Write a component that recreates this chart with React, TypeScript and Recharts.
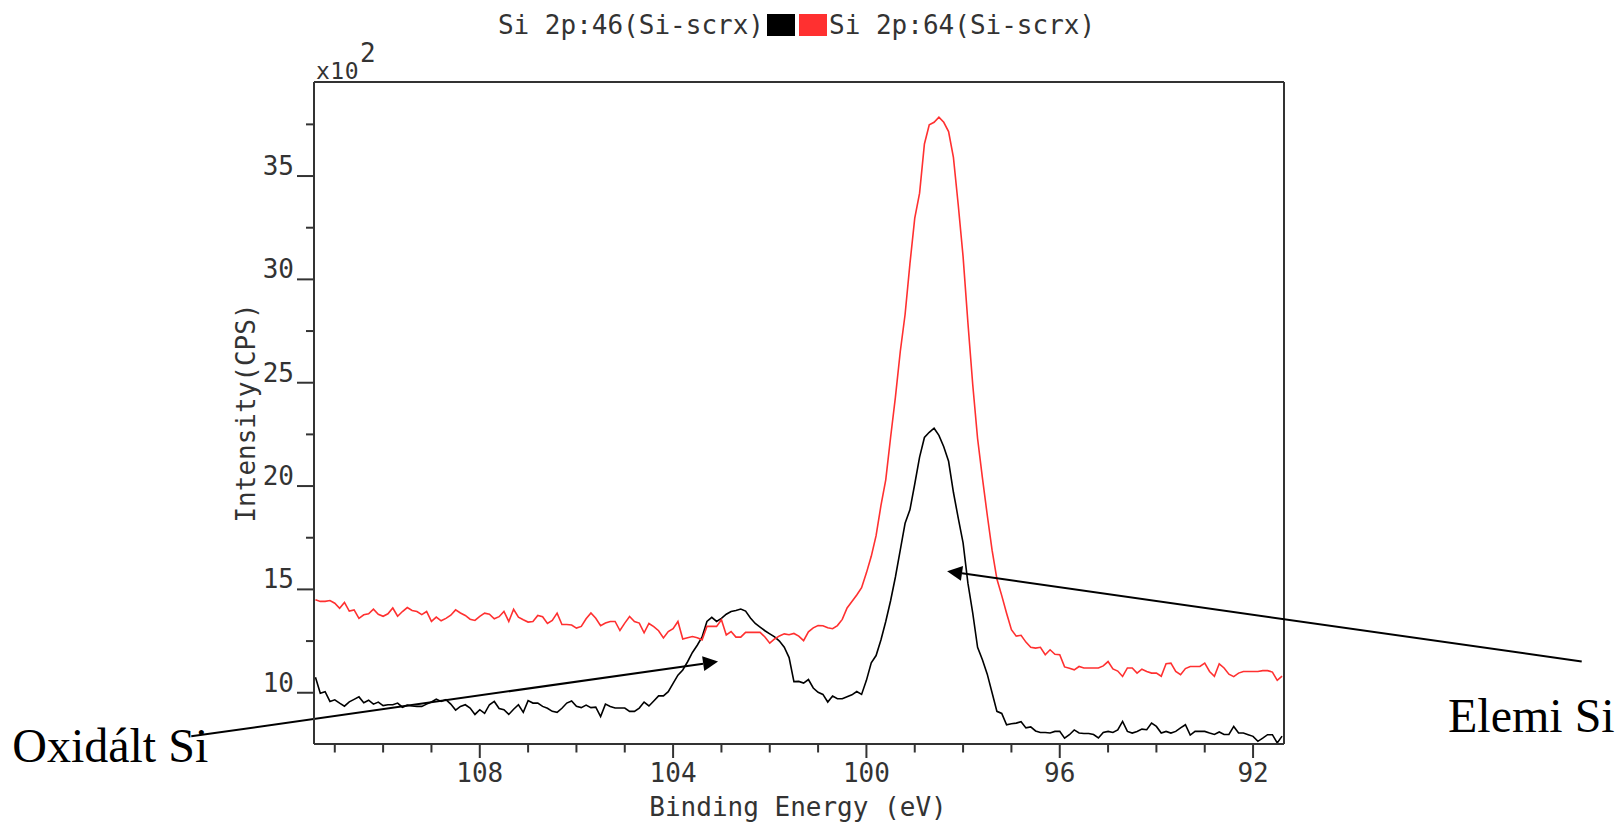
import React from 'react';
import { LineChart, Line, XAxis, YAxis, Legend, ReferenceLine } from 'recharts';

// Binding energy grid: 111.4 eV down to 91.4 eV, 0.1 eV step (201 points)
const START_EV = 111.4;
const STEP_EV = 0.1;

// Si 2p:46 (black), intensity in x10^2 CPS
const black46 = [
  10.75, 9.98, 10.05, 9.58, 9.66, 9.5, 9.35, 9.56, 9.68, 9.8,
  9.52, 9.64, 9.45, 9.55, 9.38, 9.42, 9.42, 9.5, 9.3, 9.4,
  9.36, 9.34, 9.34, 9.45, 9.55, 9.69, 9.58, 9.67, 9.45, 9.16,
  9.34, 9.42, 9.26, 8.95, 9.18, 9.0, 9.42, 9.58, 9.24, 9.18,
  8.95, 9.2, 9.42, 9.05, 9.62, 9.5, 9.5, 9.34, 9.25, 9.1,
  9.05, 9.25, 9.5, 9.6, 9.34, 9.28, 9.4, 9.28, 9.3, 8.85,
  9.45, 9.34, 9.26, 9.26, 9.26, 9.1, 9.1, 9.26, 9.55, 9.36,
  9.6, 9.85, 9.85, 10.05, 10.45, 10.85, 11.1, 11.5, 11.95, 12.3,
  12.7, 13.45, 13.65, 13.45, 13.6, 13.8, 13.93, 13.98, 14.05, 13.95,
  13.62, 13.35, 13.18, 13.0, 12.85, 12.7, 12.5, 12.2, 11.7, 10.54,
  10.55, 10.47, 10.64, 10.23, 10.02, 9.92, 9.55, 9.84, 9.71, 9.71,
  9.81, 9.9, 10.06, 9.92, 10.6, 11.45, 11.8, 12.55, 13.45, 14.45,
  15.6, 16.9, 18.2, 18.85, 20.1, 21.4, 22.35, 22.6, 22.8, 22.45,
  21.9, 21.2, 19.7, 18.45, 17.25, 15.3, 13.85, 12.2, 11.6, 10.9,
  10.0, 9.1, 9.0, 8.45, 8.5, 8.53, 8.6, 8.3, 8.35, 8.15,
  8.08, 8.08, 8.05, 8.13, 8.13, 7.8, 7.97, 8.2, 8.05, 8.03,
  8.03, 7.98, 7.81, 8.08, 8.13, 8.08, 8.2, 8.61, 8.13, 8.05,
  8.13, 8.24, 8.21, 8.53, 8.37, 8.05, 8.13, 8.05, 8.13, 8.3,
  8.45, 7.95, 8.13, 8.13, 8.13, 8.05, 7.98, 8.1, 7.98, 7.98,
  8.37, 8.05, 8.05, 7.97, 7.89, 7.65, 7.8, 7.97, 7.97, 7.57, 7.9,
];

// Si 2p:64 (red), intensity in x10^2 CPS
const red64 = [
  14.5, 14.42, 14.42, 14.46, 14.33, 14.09, 14.37, 13.95, 14.01, 13.6,
  13.77, 13.82, 14.04, 13.8, 13.7, 13.82, 14.1, 13.7, 13.93, 14.12,
  13.98, 13.93, 13.78, 13.93, 13.45, 13.66, 13.48, 13.6, 13.75, 14.01,
  13.86, 13.74, 13.56, 13.5, 13.7, 13.85, 13.8, 13.58, 13.68, 13.93,
  13.45, 14.04, 13.66, 13.53, 13.42, 13.45, 13.74, 13.68, 13.35, 13.5,
  13.85, 13.3, 13.3, 13.28, 13.13, 13.21, 13.58, 13.86, 13.6, 13.24,
  13.37, 13.45, 13.45, 13.01, 13.37, 13.69, 13.45, 13.37, 12.9, 13.35,
  13.2, 13.0, 12.65, 12.96, 13.1, 13.45, 12.6, 12.66, 12.72, 12.66,
  12.56, 13.21, 13.21, 13.21, 13.53, 12.8, 12.96, 12.69, 12.69, 12.92,
  12.92, 12.92, 12.92, 12.7, 12.4, 12.6, 12.75, 12.85, 12.81, 12.87,
  12.74, 12.52, 12.95, 13.14, 13.25, 13.24, 13.14, 13.1, 13.25, 13.55,
  14.1, 14.41, 14.73, 15.08, 15.8, 16.6, 17.6, 19.05, 20.3, 22.35,
  24.3, 26.5, 28.3, 30.75, 32.96, 34.17, 36.55, 37.48, 37.6, 37.85,
  37.6, 37.15, 35.9, 33.6, 31.1, 27.9, 24.9, 22.3, 20.4, 18.6,
  16.9, 15.5, 14.7, 13.85, 13.05, 12.74, 12.78, 12.45, 12.2, 12.16,
  12.2, 11.84, 12.08, 11.86, 11.84, 11.25, 11.18, 11.11, 11.27, 11.2,
  11.2, 11.2, 11.2, 11.3, 11.51, 11.15, 11.05, 10.79, 11.2, 11.2,
  10.95, 11.14, 11.03, 10.95, 10.95, 10.8, 11.4, 11.43, 11.03, 10.87,
  11.17, 11.27, 11.27, 11.27, 11.43, 11.03, 10.8, 11.4, 11.2, 10.9,
  10.78, 10.95, 11.03, 11.03, 11.03, 11.03, 11.07, 11.07, 11.0, 10.6, 10.8,
];

const seriesNames = ['Si 2p:46(Si-scrx)', 'Si 2p:64(Si-scrx)'];
const seriesColors = ['#000000', '#ff3030'];

const xTicks = [92, 93, 94, 95, 96, 97, 98, 99, 100, 101, 102, 103, 104, 105, 106, 107, 108, 109, 110, 111];
const yTicks = [10, 12.5, 15, 17.5, 20, 22.5, 25, 27.5, 30, 32.5, 35, 37.5];
const xDomain = [91.36, 111.43];
const yDomain = [7.52, 39.55];

const xTitle = 'Binding Energy (eV)';
const yTitle = 'Intensity(CPS)';

// annotation arrows (data coordinates: [eV, x10^2 CPS]); first point = label end, second = arrow tip
const oxidArrow = [{ x: 113.97, y: 7.89 }, { x: 103.07, y: 11.51 }];
const elemArrow = [{ x: 85.2, y: 11.51 }, { x: 98.33, y: 15.88 }];
const oxidLabel = 'Oxidált Si';
const elemLabel = 'Elemi Si';

const data = black46.map((b, i) => ({
  energy: Math.round((START_EV - i * STEP_EV) * 10) / 10,
  s46: b,
  s64: red64[i],
}));

const MONO = '"DejaVu Sans Mono", "Liberation Mono", monospace';
const SERIF = '"Liberation Serif", "Times New Roman", serif';
const AXIS = '#333333';
const TXT = '#333333';

const XTick = (props: any) => {
  const { x, y, payload } = props;
  const v = payload.value;
  const major = v % 4 === 0;
  return (
    <g>
      <line x1={x} y1={y} x2={x} y2={y + (major ? 14 : 8.5)} stroke={AXIS} strokeWidth={2} />
      {major && (
        <text x={x} y={y + 38} textAnchor="middle" fontFamily={MONO} fontSize={26} fill={TXT}>
          {v}
        </text>
      )}
    </g>
  );
};

const YTick = (props: any) => {
  const { x, y, payload } = props;
  const v = payload.value;
  const major = v % 5 === 0;
  return (
    <g>
      <line x1={x - (major ? 17 : 8)} y1={y} x2={x} y2={y} stroke={AXIS} strokeWidth={2} />
      {major && (
        <text x={x - 20} y={y - 1} textAnchor="end" fontFamily={MONO} fontSize={26} fill={TXT}>
          {v}
        </text>
      )}
    </g>
  );
};

const YLabel = (props: any) => {
  const vb = props.viewBox || { x: 0, y: 0, width: 0, height: 0 };
  const right = vb.x + vb.width;
  const cy = vb.y + vb.height / 2;
  return (
    <g>
      <text
        x={right - 68}
        y={cy}
        transform={`rotate(-90 ${right - 68} ${cy})`}
        textAnchor="middle"
        dominantBaseline="central"
        fontFamily={MONO}
        fontSize={26}
        fill={TXT}
      >
        {yTitle}
      </text>
      <text x={right + 2} y={vb.y - 3} fontFamily={MONO} fontSize={23} letterSpacing={0.5} fill={TXT}>
        x10
      </text>
      <text x={right + 46} y={vb.y - 20} fontFamily={MONO} fontSize={26} fill={TXT}>
        2
      </text>
    </g>
  );
};

const XLabel = (props: any) => {
  const vb = props.viewBox || { x: 0, y: 0, width: 0, height: 0 };
  return (
    <text
      x={vb.x + vb.width / 2 - 1}
      y={vb.y + 72}
      textAnchor="middle"
      fontFamily={MONO}
      fontSize={26}
      fill={TXT}
    >
      {xTitle}
    </text>
  );
};

const makeArrow = (label: string, dx: number, dy: number) => (p: any) => {
  const { x1, y1, x2, y2 } = p;
  const ang = Math.atan2(y2 - y1, x2 - x1);
  const L = 15;
  const W = 7.5;
  const c = Math.cos(ang);
  const s = Math.sin(ang);
  const bx = x2 - L * c;
  const by = y2 - L * s;
  const pts = `${x2},${y2} ${bx - W * s},${by + W * c} ${bx + W * s},${by - W * c}`;
  return (
    <g>
      <line x1={x1} y1={y1} x2={bx} y2={by} stroke="#000" strokeWidth={2} />
      <polygon points={pts} fill="#000" />
      <text x={x1 + dx} y={y1 + dy} textAnchor="end" fontFamily={SERIF} fontSize={48} fill="#000">
        {label}
      </text>
    </g>
  );
};

const renderLegend = (props: any) => {
  const p = props.payload || [];
  const a = p[0] || { value: seriesNames[0], color: seriesColors[0] };
  const b = p[1] || { value: seriesNames[1], color: seriesColors[1] };
  return (
    <svg width={1621} height={50} style={{ position: 'absolute', left: 0, top: 0, overflow: 'visible' }}>
      <text x={764} y={34} textAnchor="end" fontFamily={MONO} fontSize={26} fill={TXT}>
        {a.value}
      </text>
      <rect x={767} y={14} width={28} height={22} fill={a.color} />
      <rect x={799} y={14} width={28} height={22} fill={b.color} />
      <text x={829} y={34} fontFamily={MONO} fontSize={26} fill={TXT}>
        {b.value}
      </text>
    </svg>
  );
};

export default function App() {
  return (
    <div style={{ position: 'absolute', left: 0, top: 0, width: 1621, height: 824, background: '#fff' }}>
      <LineChart
        width={1621}
        height={824}
        data={data}
        margin={{ top: 82, right: 337, bottom: 0, left: 0 }}
      >
        <XAxis
          dataKey="energy"
          type="number"
          domain={xDomain}
          reversed
          allowDataOverflow
          ticks={xTicks}
          interval={0}
          tickSize={0}
          tickMargin={0}
          tickLine={false}
          tick={<XTick />}
          axisLine={{ stroke: AXIS, strokeWidth: 2 }}
          height={80}
          label={<XLabel />}
        />
        <YAxis
          type="number"
          domain={yDomain}
          allowDataOverflow
          ticks={yTicks}
          interval={0}
          tickSize={0}
          tickMargin={0}
          tickLine={false}
          tick={<YTick />}
          axisLine={{ stroke: AXIS, strokeWidth: 2 }}
          width={314}
          label={<YLabel />}
        />
        <Legend
          content={renderLegend}
          wrapperStyle={{ position: 'absolute', left: 0, top: 0, width: 1621, height: 0, margin: 0, padding: 0 }}
        />
        <ReferenceLine y={yDomain[1]} stroke={AXIS} strokeWidth={2} ifOverflow="visible" />
        <ReferenceLine x={xDomain[0]} stroke={AXIS} strokeWidth={2} ifOverflow="visible" />
        <Line
          dataKey="s46"
          name={seriesNames[0]}
          stroke={seriesColors[0]}
          strokeWidth={1.6}
          dot={false}
          type="linear"
          isAnimationActive={false}
        />
        <Line
          dataKey="s64"
          name={seriesNames[1]}
          stroke={seriesColors[1]}
          strokeWidth={1.6}
          dot={false}
          type="linear"
          isAnimationActive={false}
        />
        <ReferenceLine segment={oxidArrow} ifOverflow="visible" shape={makeArrow(oxidLabel, 17, 26)} />
        <ReferenceLine segment={elemArrow} ifOverflow="visible" shape={makeArrow(elemLabel, 33, 70)} />
      </LineChart>
    </div>
  );
}
